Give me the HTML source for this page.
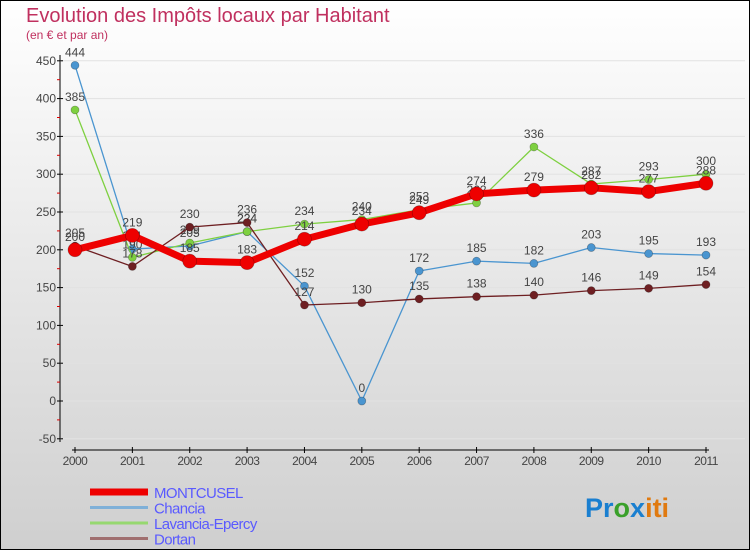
<!DOCTYPE html>
<html><head><meta charset="utf-8"><style>
body{margin:0;width:750px;height:550px;overflow:hidden;font-family:"Liberation Sans",sans-serif}
svg{display:block}
</style></head><body>
<svg id="c" width="750" height="550" xmlns="http://www.w3.org/2000/svg">
<defs><linearGradient id="bg" x1="0" y1="0" x2="0" y2="1"><stop offset="0" stop-color="#ffffff"/><stop offset="1" stop-color="#cfcfcf"/></linearGradient></defs>
<rect x="0.5" y="0.5" width="749" height="549" fill="url(#bg)" stroke="#000"/>
<text x="26" y="22" font-size="20" fill="#c0305f">Evolution des Impôts locaux par Habitant</text>
<text x="26" y="39" font-size="12" fill="#c0305f">(en € et par an)</text>
<g id="axes"></g>
<g id="series"></g>
<g id="legend"></g>
<text x="585" y="517" font-size="27" font-weight="bold"><tspan fill="#1a7fd0">Pr</tspan><tspan fill="#3aa02a">o</tspan><tspan fill="#1a7fd0">x</tspan><tspan fill="#e07a10">iti</tspan></text>
</svg>
<script>
const years=[2000,2001,2002,2003,2004,2005,2006,2007,2008,2009,2010,2011];
const yTicks=[-50,0,50,100,150,200,250,300,350,400,450];
const montcusel=[200,219,185,183,214,234,249,274,279,282,277,288];
const chancia=[444,201,205,224,152,0,172,185,182,203,195,193];
const lavancia=[385,190,209,224,234,240,253,262,336,287,293,300];
const dortan=[205,178,230,236,127,130,135,138,140,146,149,154];
const NS="http://www.w3.org/2000/svg";
const xs=i=>75+i*(706-75)/11;
const ys=v=>401-v*0.756;
function mk(tag,attrs,parent){const e=document.createElementNS(NS,tag);for(const k in attrs)e.setAttribute(k,attrs[k]);parent.appendChild(e);return e;}
const ax=document.getElementById('axes');
let l=mk('line',{x1:60,y1:55,x2:60,y2:442,stroke:'#000'},ax);


yTicks.forEach((t,i)=>{
  const y=ys(t);
  const g=mk('line',{x1:60,y1:y,x2:745,y2:y,stroke:'#e2e2e2'},ax);
  
  
  mk('line',{x1:57,y1:y,x2:63,y2:y,stroke:'#000'},ax);
  if(i<yTicks.length-1){mk('line',{x1:57,y1:ys(t+25),x2:60,y2:ys(t+25),stroke:'#d00'},ax);}
  const tx=mk('text',{x:56,y:y+4,'font-size':12,fill:'#444','text-anchor':'end'},ax);
  tx.textContent=t;
  
  
});
l=mk('line',{x1:72,y1:450,x2:709,y2:450,stroke:'#000'},ax);


years.forEach((yr,i)=>{
  const x=xs(i);
  mk('line',{x1:x,y1:447,x2:x,y2:453,stroke:'#000'},ax);
  const tx=mk('text',{x:x,y:465,'font-size':12,fill:'#444','text-anchor':'middle','letter-spacing':'-0.5'},ax);
  tx.textContent=yr;
  
  
});
const sg=document.getElementById('series');
function series(data,color,w,r,name){
  const g=mk('g',{},sg);
  
  
  const p=mk('polyline',{points:data.map((v,i)=>xs(i)+','+ys(v)).join(' '),fill:'none',stroke:color,'stroke-width':w,'stroke-linejoin':'round'},g);
  
  
  data.forEach((v,i)=>{
    const c=mk('circle',{cx:xs(i),cy:ys(v),r:r,fill:color,stroke:'rgba(0,0,0,0.3)','stroke-width':0.7},g);
    
    
    const t=mk('text',{x:xs(i),y:ys(v)-9,'font-size':12,fill:'#444','text-anchor':'middle'},g);
    t.textContent=v;
    
    
  });
}
series(chancia,'#4a95d0',1.3,4,'chancia');
series(lavancia,'#7ed040',1.3,4,'lavancia-epercy');
series(dortan,'#6e1f22',1.3,4,'dortan');
series(montcusel,'#ee0000',7,7,'montcusel');
const lg=document.getElementById('legend');
const items=[['MONTCUSEL','#ee0000',7],['Chancia','#7fb0d8',3],['Lavancia-Epercy','#96d870',3],['Dortan','#a06f6f',3]];
items.forEach((it,i)=>{
  const y=492+i*15.5;
  const ln=mk('line',{x1:90,y1:y,x2:148,y2:y,stroke:it[1],'stroke-width':it[2]},lg);
  
  
  const t=mk('text',{x:154,y:y+6,'font-size':15,fill:'#5a5aff','letter-spacing':'-0.6'},lg);
  t.textContent=it[0];
  
  
});
</script>
</body></html>
